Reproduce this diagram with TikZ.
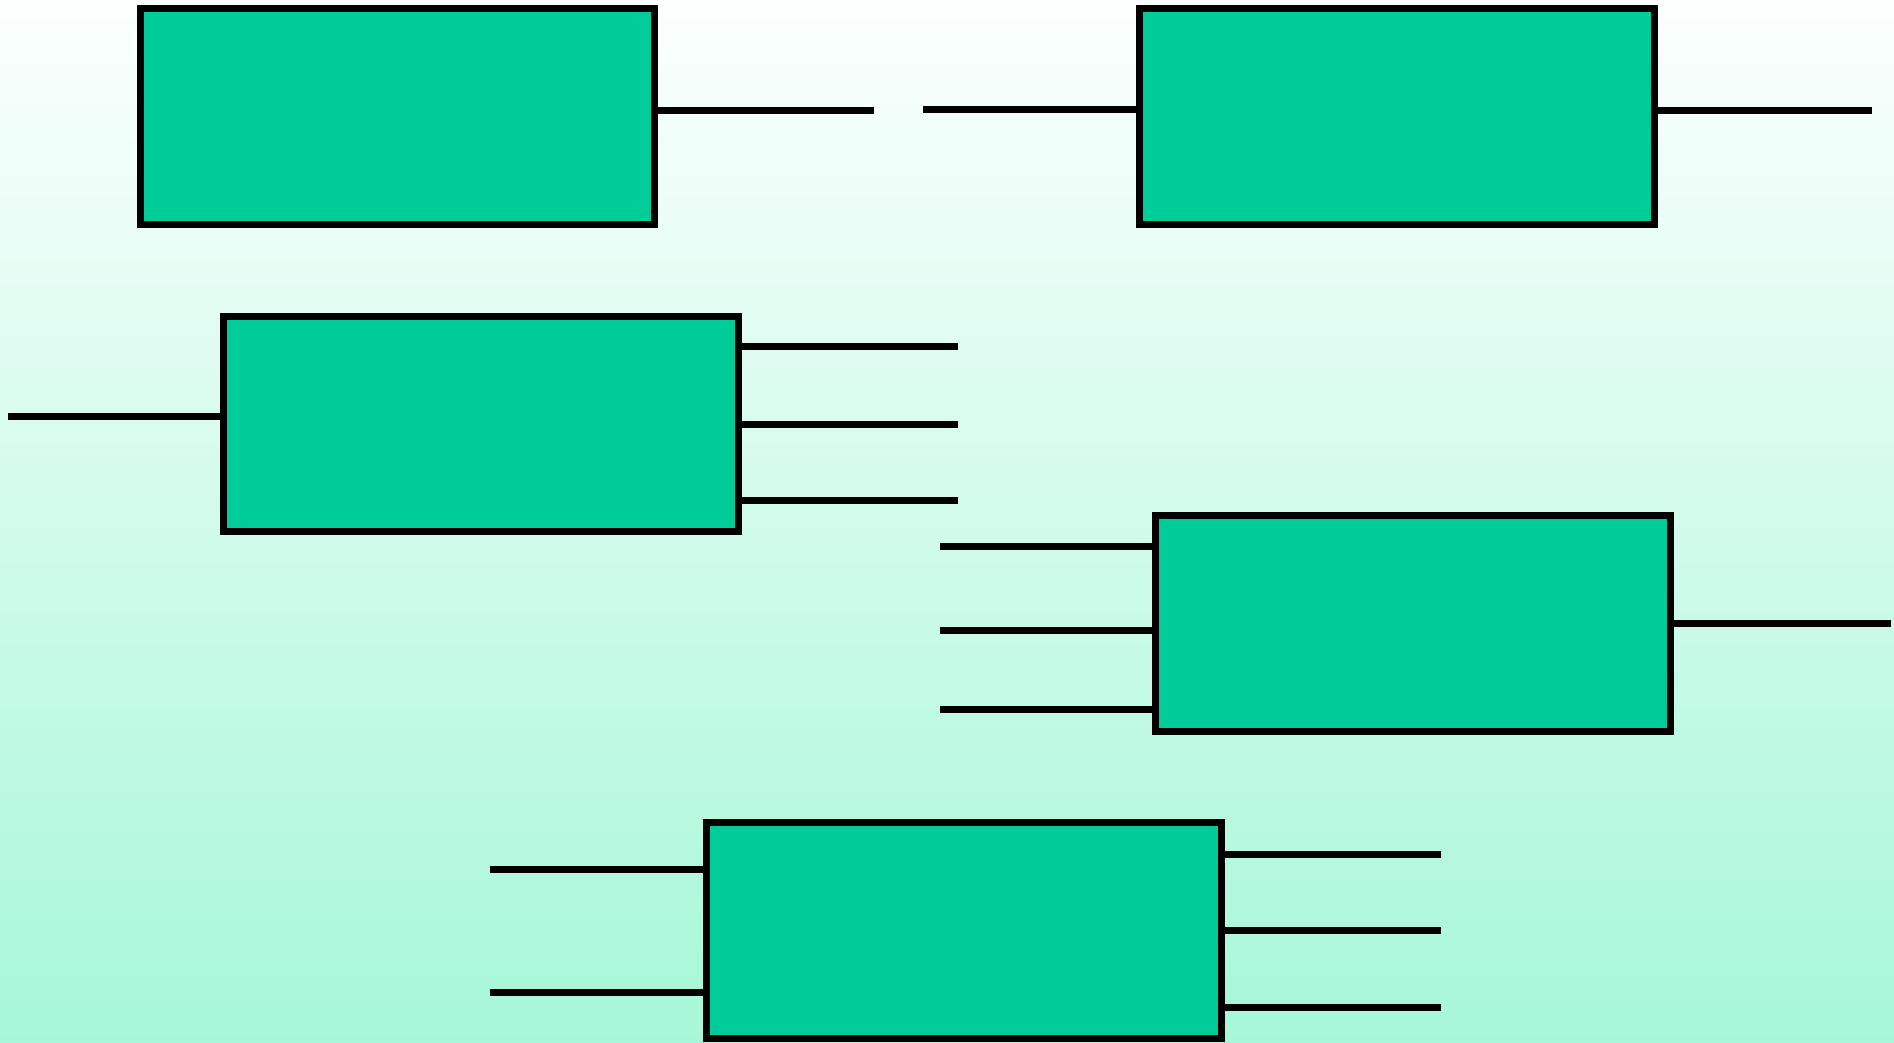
\documentclass[tikz,border=0pt]{standalone}
\definecolor{boxfill}{RGB}{0,204,153}
\definecolor{bgbottom}{RGB}{166,247,216}
\definecolor{bgtop}{RGB}{252,255,254}
\begin{document}
\begin{tikzpicture}[x=1pt,y=-1pt,
  block/.style={draw=black,fill=boxfill,line width=7pt,minimum width=514.5pt,minimum height=215.5pt,inner sep=0pt,outer sep=0pt},
  wire/.style={draw=black,line width=7pt}]
\useasboundingbox (0,0) rectangle (1894,1042);
\shade[top color=bgtop,bottom color=bgbottom] (0,0) rectangle (1894,1042);
\begin{scope}
\clip (0,0) rectangle (1894,1042);
% wire free ends
\coordinate (a1) at (873.5,110.8);
\coordinate (b1) at (922.8,109.5);
\coordinate (b2) at (1872,110.8);
\coordinate (c0) at (7.5,416.7);
\coordinate (c1) at (957.5,346.8);
\coordinate (c2) at (957.5,424);
\coordinate (c3) at (957.5,500.7);
\coordinate (d1) at (940,546.7);
\coordinate (d2) at (940,630);
\coordinate (d3) at (940,709.3);
\coordinate (d4) at (1890.5,623.3);
\coordinate (e1) at (490,869.7);
\coordinate (e2) at (490,992.3);
\coordinate (e3) at (1440.6,854);
\coordinate (e4) at (1440.6,930.7);
\coordinate (e5) at (1440.6,1007.7);
% boxes
\node[block] (A) at (397.4,116.6) {};
\node[block] (B) at (1396.9,116.6) {};
\node[block] (C) at (481,423.8) {};
\node[block] (D) at (1413.2,623.3) {};
\node[block] (E) at (963.8,930.7) {};
% wires
\draw[wire] (A.east |- a1) -- (a1);
\draw[wire] (b1) -- (B.west |- b1);
\draw[wire] (B.east |- b2) -- (b2);
\draw[wire] (c0) -- (C.west |- c0);
\draw[wire] (C.east |- c1) -- (c1);
\draw[wire] (C.east |- c2) -- (c2);
\draw[wire] (C.east |- c3) -- (c3);
\draw[wire] (d1) -- (D.west |- d1);
\draw[wire] (d2) -- (D.west |- d2);
\draw[wire] (d3) -- (D.west |- d3);
\draw[wire] (D.east |- d4) -- (d4);
\draw[wire] (e1) -- (E.west |- e1);
\draw[wire] (e2) -- (E.west |- e2);
\draw[wire] (E.east |- e3) -- (e3);
\draw[wire] (E.east |- e4) -- (e4);
\draw[wire] (E.east |- e5) -- (e5);
\end{scope}
\end{tikzpicture}
\end{document}
